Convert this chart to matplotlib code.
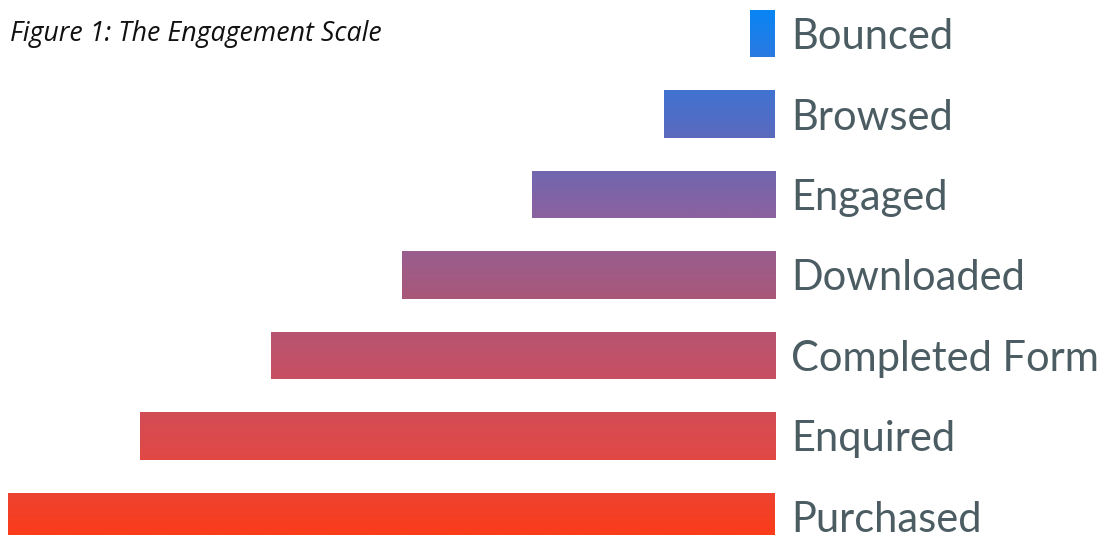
import numpy as np
import matplotlib.pyplot as plt
from matplotlib.colors import LinearSegmentedColormap

categories = ["Bounced", "Browsed", "Engaged", "Downloaded", "Completed Form", "Enquired", "Purchased"]
values = [1.9, 8.5, 18.7, 28.7, 38.8, 48.85, 59.0]
title = "Figure 1: The Engagement Scale"

W, H = 1106, 535
fig = plt.figure(figsize=(W / 100, H / 100), dpi=100)
ax = fig.add_axes([0, 0, 775 / W, 1])
ax.set_xlim(775 / 13, 0)
ax.set_ylim((535 - 33.5) / 80.5, -33.5 / 80.5)
ax.axis("off")

cmap = LinearSegmentedColormap.from_list(
    "eng",
    [(0.0, "#0088F8"), (0.10, "#2A7AE2"), (0.25, "#5A6ABE"), (0.40, "#8A62A0"),
     (0.55, "#A8587A"), (0.70, "#C65064"), (0.85, "#E04946"), (1.0, "#FA3C1A")])

y = np.arange(len(categories))
bars = ax.barh(y, values, height=0.585, color="none", edgecolor="none")
ylo, yhi = ax.get_ylim()
grad = np.linspace(0, 1, 512).reshape(-1, 1)
for b in bars:
    im = ax.imshow(grad, cmap=cmap, aspect="auto", extent=(ax.get_xlim()[0], 0, ylo, yhi),
                   origin="upper", interpolation="bilinear", zorder=2)
    im.set_clip_path(b)
ax.set_xlim(775 / 13, 0)
ax.set_ylim(ylo, yhi)

for i, c in enumerate(categories):
    yc = 33.5 + 80.5 * i
    fig.text(791 / W, 1 - yc / H, c, ha="left", va="center_baseline",
             fontsize=30, color="#4B5D63", family="Lato")

fig.text(10 / W, 1 - 34 / H, title, ha="left", va="center", fontsize=19.3,
         style="italic", color="#111111", family="Open Sans")

fig.savefig("out.png", dpi=100)
